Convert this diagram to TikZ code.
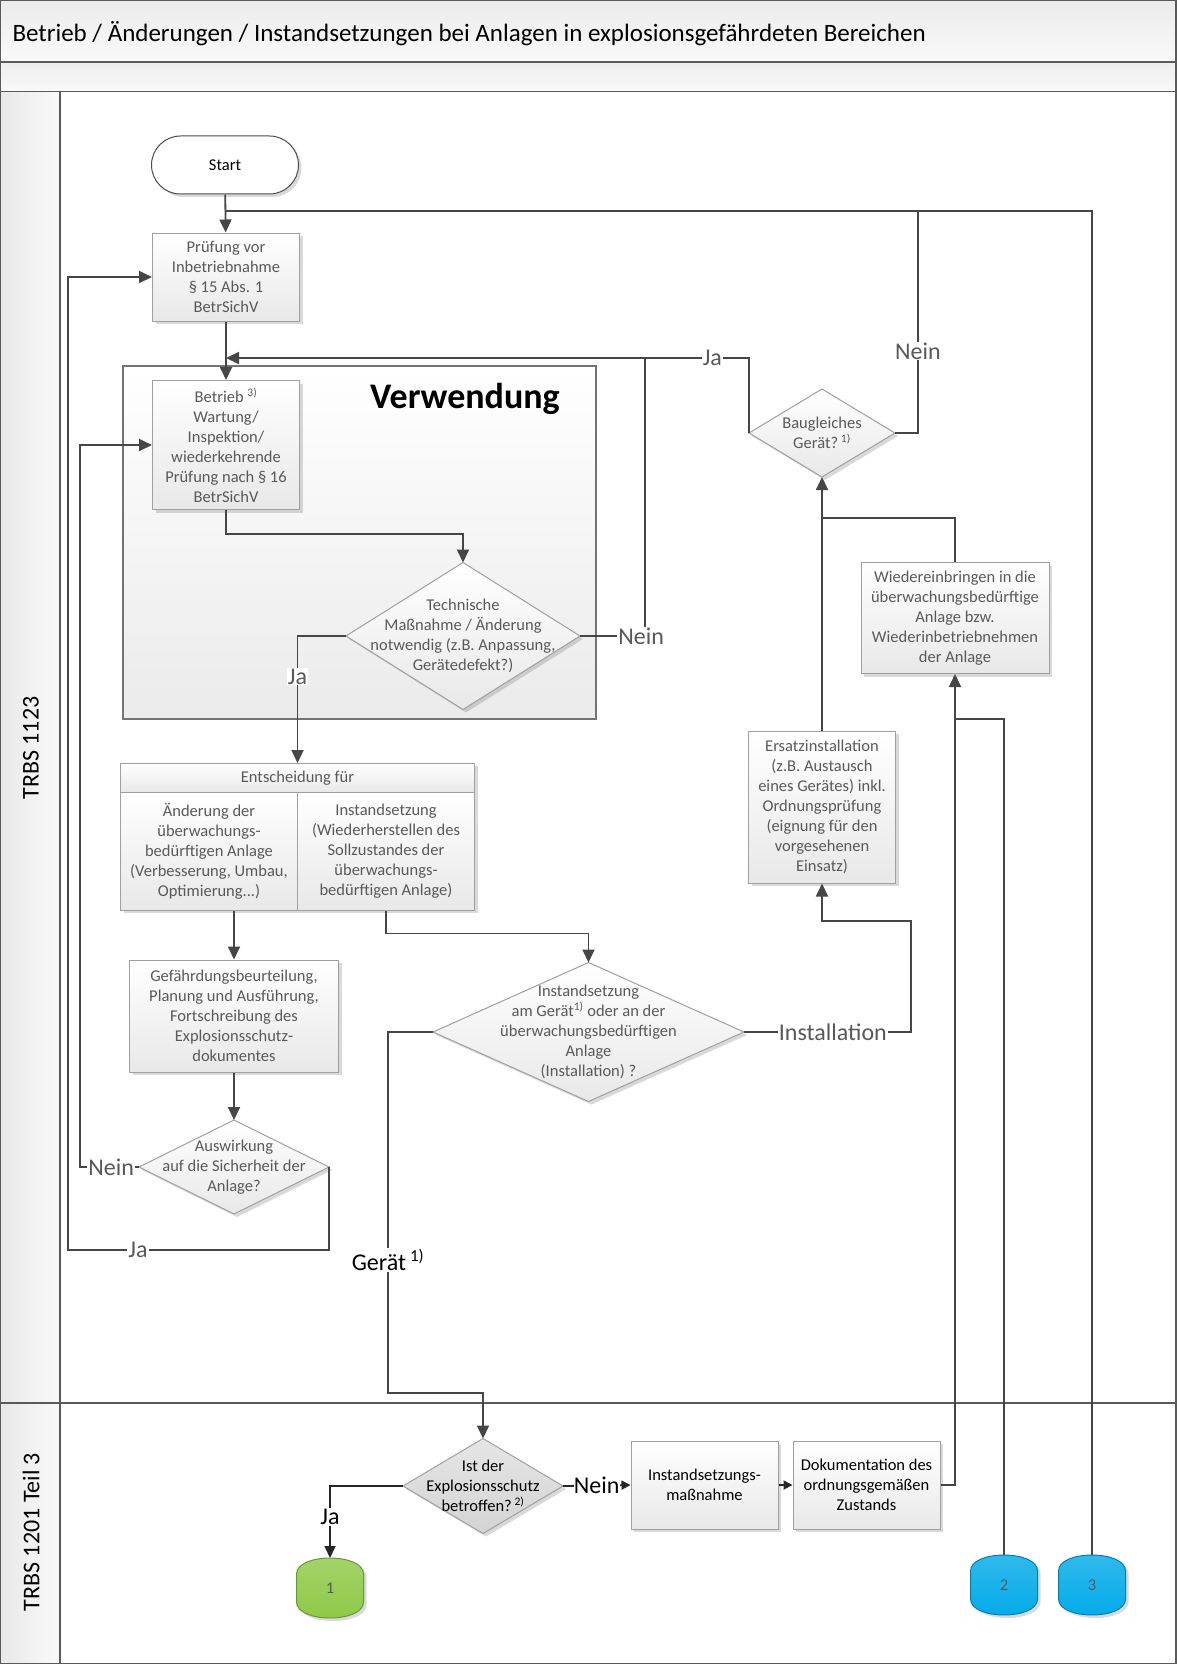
\documentclass[tikz,border=0pt]{standalone}
\usepackage{fontspec}
\setmainfont{Carlito}
\usepackage{tikz}
\usetikzlibrary{arrows.meta,positioning,shapes.geometric,shadows,calc}
\definecolor{linegray}{RGB}{70,70,70}
\definecolor{txtgray}{RGB}{89,89,89}
\definecolor{framegray}{RGB}{90,90,90}
\definecolor{boxborder}{RGB}{160,160,160}
\definecolor{conngreen}{RGB}{141,201,70}
\definecolor{connblue}{RGB}{0,170,232}
\newcommand{\boxfont}{\fontsize{16.5}{20}\selectfont}
\newcommand{\labfont}{\fontsize{24}{28}\selectfont}
% barrel shaped off-page connector: centre, colour
\newcommand{\barrel}[2]{%
  \shade[draw=#2!75!black, line width=1pt, top color=#2!80!white, bottom color=#2, shadowed]
    ($(#1)+(-33.5,-14)$) .. controls ($(#1)+(-33.5,-35.3)$) and ($(#1)+(33.5,-35.3)$) .. ($(#1)+(33.5,-14)$)
    -- ($(#1)+(33.5,14)$) .. controls ($(#1)+(33.5,35.3)$) and ($(#1)+(-33.5,35.3)$) .. ($(#1)+(-33.5,14)$) -- cycle;}

\begin{document}
\begin{tikzpicture}[
    x=1pt, y=-1pt,
    line/.style={draw=linegray, line width=1.8pt},
    flow/.style={line, -{Triangle[length=13pt,width=12pt]}},
    flowb/.style={draw=black!85, line width=1.8pt, -{Triangle[length=12pt,width=11pt]}},
    shadowed/.style={drop shadow={shadow xshift=3pt, shadow yshift=-3pt, opacity=0.25, fill=black!60}},
    box/.style 2 args={rectangle, draw=boxborder, line width=1pt, top color=white, bottom color=black!9, minimum width=#1pt, minimum height=#2pt, inner sep=2pt, shadowed},
    cell/.style 2 args={rectangle, draw=boxborder, line width=1pt, top color=white, bottom color=black!9, minimum width=#1pt, minimum height=#2pt, inner sep=2pt},
    decision/.style 2 args={diamond, draw=boxborder, line width=1pt, top color=white, bottom color=black!9, minimum width=#1pt, minimum height=#2pt, inner sep=0pt, outer sep=0pt, shadowed},
    btext/.style={align=center, font=\boxfont, text=txtgray},
    lab/.style={fill=white, inner sep=1pt, font=\labfont, text=txtgray},
    terminal/.style={rectangle, rounded corners=29pt, draw=black!70, line width=1pt, fill=white, minimum width=147pt, minimum height=58pt, font=\boxfont, shadowed},
    region/.style={rectangle, draw=black!55, line width=1.3pt, top color=white, bottom color=black!8, minimum width=473pt, minimum height=353pt},
    conn/.style={rectangle, minimum width=67pt, minimum height=60pt, outer sep=0pt, font=\boxfont, text=black!65}
]
\useasboundingbox (0,0) rectangle (1176,1664);

% Pool and lanes
\shade[top color=black!8, bottom color=black!2] (0,0) rectangle (1176,62);
\shade[top color=black!7, bottom color=black!2] (0,62) rectangle (1176,91.5);
\shade[left color=black!9, right color=black!2] (0,91.5) rectangle (60,1664);
\draw[framegray, line width=2pt] (0,0) rectangle (1176,1664);
\draw[framegray, line width=1.5pt] (0,62) -- (1176,62);
\draw[framegray, line width=1.5pt] (0,91.5) -- (1176,91.5);
\draw[framegray, line width=1.5pt] (60,91.5) -- (60,1664);
\draw[framegray, line width=1.5pt] (0,1403) -- (1176,1403);

\node[anchor=west, font=\fontsize{25}{30}\selectfont] (title) at (9,34) {Betrieb / Änderungen / Instandsetzungen bei Anlagen in explosionsgefährdeten Bereichen};
\node[rotate=90, font=\labfont] (lane1) at (31,748) {TRBS 1123};
\node[rotate=90, font=\labfont] (lane2) at (31,1532) {TRBS 1201 Teil 3};

% Verwendung
\node[region] (verw) at (359.5,542.5) {};
\node[font=\fontsize{36}{40}\selectfont\bfseries] (verwt) at (465,399) {Verwendung};

% Upper lane
\node[terminal] (start) at (225,165) {Start};
\node[box={147}{88}, btext] (pruef) at (226,277) {Prüfung vor\\Inbetriebnahme\\§ 15 Abs. 1\\BetrSichV};
\node[box={147}{129}, btext] (betrieb) at (226,445) {Betrieb \textsuperscript{3)}\\Wartung/\\Inspektion/\\wiederkehrende\\Prüfung nach § 16\\BetrSichV};
\node[decision={234}{147}] (tech) at (463,636) {};
\node[btext] (tech-t) at (tech) {Technische\\Maßnahme / Änderung\\notwendig (z.B. Anpassung,\\Gerätedefekt?)};

\node[box={354}{147}] (entframe) at (297.5,836.7) {};
\node[cell={354}{29}, btext] (ent) at (297.5,778) {Entscheidung für};
\node[cell={177}{118}, btext] (entL) at (209,851) {Änderung der\\überwachungs-\\bedürftigen Anlage\\(Verbesserung, Umbau,\\Optimierung...)};
\node[cell={177}{118}, btext] (entR) at (386,851) {Instandsetzung\\(Wiederherstellen des\\Sollzustandes der\\überwachungs-\\bedürftigen Anlage)};

\node[box={209}{112}, btext] (gef) at (234,1016) {Gefährdungsbeurteilung,\\Planung und Ausführung,\\Fortschreibung des\\Explosionsschutz-\\dokumentes};
\node[decision={190}{94}] (ausw) at (234,1167) {};
\node[btext] (ausw-t) at (ausw) {Auswirkung\\auf die Sicherheit der\\Anlage?};

\node[decision={311}{139}] (inst) at (588.5,1032) {};
\node[btext] (inst-t) at (inst) {Instandsetzung\\am Gerät\textsuperscript{1)} oder an der\\überwachungsbedürftigen\\Anlage\\(Installation) ?};

\node[box={147}{152}, btext] (ersatz) at (822,807) {Ersatzinstallation\\(z.B. Austausch\\eines Gerätes) inkl.\\Ordnungsprüfung\\(eignung für den\\vorgesehenen\\Einsatz)};
\node[box={188}{111}, btext] (wieder) at (955,618) {Wiedereinbringen in die\\überwachungsbedürftige\\Anlage bzw.\\Wiederinbetriebnehmen\\der Anlage};
\node[decision={146}{88}] (baug) at (822,433) {};
\node[btext] (baug-t) at (baug) {Baugleiches\\Gerät?\,\textsuperscript{1)}};

% Lower lane
\node[decision={160}{95}, top color=black!10, bottom color=black!17] (ist) at (483,1486) {};
\node[btext, text=black] (ist-t) at (ist) {Ist der\\Explosionsschutz\\betroffen?\,\textsuperscript{2)}};
\node[box={147}{88}, btext, text=black] (inst2) at (704.5,1485) {Instandsetzungs-\\maßnahme};
\node[box={147}{88}, btext, text=black] (doku) at (866.5,1485) {Dokumentation des\\ordnungsgemäßen\\Zustands};
\barrel{330,1588}{conngreen}
\node[conn] (c1) at (330,1588) {1};
\barrel{1004,1585}{connblue}
\node[conn] (c2) at (1004,1585) {2};
\barrel{1092,1585}{connblue}
\node[conn] (c3) at (1092,1585) {3};

\coordinate (jtop) at (226,211);
\coordinate (jmid) at (226,358);

% Connectors
\draw[flow] (start) -- (pruef);
\draw[line] (c3.north) |- (jtop);
\draw[line] (baug.east) -| node[lab, pos=0.685] {Nein} (918,211);
\draw[flow] (pruef) -- (betrieb);
\draw[flow] (baug.west) |- node[lab, pos=0.535] {Ja} (jmid);
\draw[line] (tech.east) -| node[lab, pos=0.47] {Nein} (645,358);
\draw[flow] (betrieb.south) -- ++(0,24) -| (tech.north);
\draw[flow] (tech.west) -| node[lab, pos=0.66] {Ja} (ent.north);
\draw[flow] (entL.south -| gef.north) -- (gef.north);
\draw[flow] (entR.south) -- ++(0,23) -| (inst.north);
\draw[flow] (gef) -- (ausw);
\draw[flow] (ausw.west) -- node[lab, pos=0.47] {Nein} (80,1167) |- (betrieb.west);
\draw[flow] (ausw.east) |- node[lab, pos=0.866] {Ja} (68,1250) |- (pruef.west);
\draw[flow] (inst.east) -| node[lab, pos=0.266] {Installation} (911,921) -| (ersatz.south);
\draw[flow] (ersatz.north) -- (baug.south);
\draw[line] (wieder.north) |- (822,518);
\draw[flow] (inst.west) -| node[lab, text=black, pos=0.816] {Gerät\,\textsuperscript{1)}} (388,1393) -| (ist.north);
\draw[flowb] (ist.west) -| node[lab, text=black, pos=0.715] {Ja} (c1.north);
\draw[flowb, -{Triangle[length=9pt,width=9pt]}] (ist.east) -- node[lab, text=black, inner sep=0pt] {Nein} (inst2.west);
\draw[flowb, -{Triangle[length=9pt,width=9pt]}] (inst2) -- (doku);
\draw[flow] (doku.east) -| (wieder.south);
\draw[line] (c2.north) |- (955,719);

\end{tikzpicture}
\end{document}
